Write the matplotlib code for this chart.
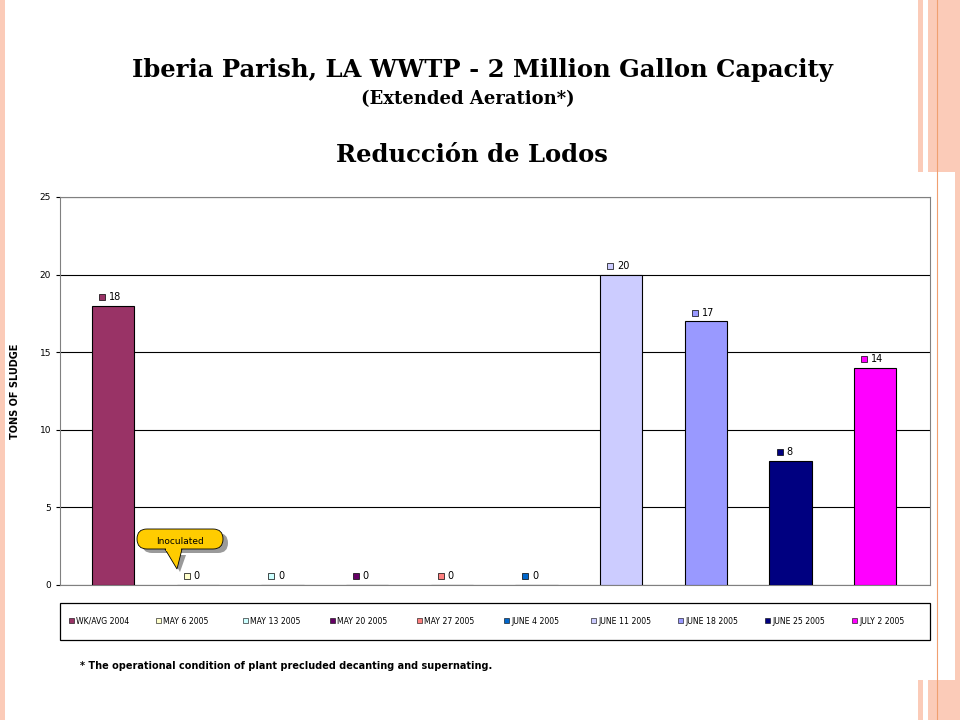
import matplotlib
matplotlib.use("Agg")
import matplotlib.pyplot as plt
from matplotlib.patches import Rectangle, FancyBboxPatch, Polygon

categories = ["WK/AVG 2004", "MAY 6 2005", "MAY 13 2005", "MAY 20 2005", "MAY 27 2005",
              "JUNE 4 2005", "JUNE 11 2005", "JUNE 18 2005", "JUNE 25 2005", "JULY 2 2005"]
values = [18, 0, 0, 0, 0, 0, 20, 17, 8, 14]
colors = ["#993366", "#FFFFCC", "#CCFFFF", "#660066", "#FF8080",
          "#0066CC", "#CCCCFF", "#9999FF", "#000080", "#FF00FF"]
yticks = [0, 5, 10, 15, 20, 25]

W, H = 960, 720
fig = plt.figure(figsize=(9.6, 7.2), dpi=100)
fig.patch.set_facecolor("white")

def px(x, y, w, h):
    return [x / W, 1 - (y + h) / H, w / W, h / H]

# decorative stripes
bg = fig.add_axes([0, 0, 1, 1], zorder=-5)
bg.set_xlim(0, W); bg.set_ylim(H, 0); bg.axis("off")
for x0, w in [(0, 5), (918, 5), (928, 32)]:
    bg.add_patch(Rectangle((x0, 0), w, H, color="#FBCBB8", lw=0))
bg.plot([937, 937], [0, H], color="#F0A070", lw=0.8)
bg.add_patch(Rectangle((5, 172), 950, 508, color="white", lw=0))

fig.text(482 / W, 1 - 70 / H, "Iberia Parish, LA WWTP - 2 Million Gallon Capacity",
         ha="center", va="center", fontsize=17.5, fontweight="bold", family="DejaVu Serif")
fig.text(468 / W, 1 - 99 / H, "(Extended Aeration*)", ha="center", va="center",
         fontsize=13, fontweight="bold", family="DejaVu Serif")
fig.text(472 / W, 1 - 155 / H, "Reducción de Lodos", ha="center", va="center",
         fontsize=17.5, fontweight="bold", family="DejaVu Serif")

ax = fig.add_axes(px(60, 197, 870, 388))
pos = list(range(len(categories)))
ax.bar(pos, values, width=0.5, color=colors, edgecolor="black", linewidth=0.8, zorder=3)
ax.set_xlim(-0.626, 9.646)
ax.set_ylim(0, 25)
ax.set_yticks(yticks)
ax.tick_params(axis="y", labelsize=6.5, length=3)
ax.set_xticks([])
ax.grid(axis="y", color="black", lw=0.8, zorder=0)
for s in ax.spines.values():
    s.set_color("#808080")
ax.set_ylabel("TONS OF SLUDGE", fontsize=7, fontweight="bold", labelpad=14)
for p, v, c in zip(pos, values, colors):
    yy = v + 0.55
    ax.plot(p - 0.13, yy, marker="s", ms=5, mfc=c, mec="black", mew=0.5, zorder=5)
    ax.text(p - 0.05, yy, str(v), fontsize=7, va="center", ha="left", zorder=5)

# overlay for callout, legend, note
ov = fig.add_axes([0, 0, 1, 1], zorder=10)
ov.set_xlim(0, W); ov.set_ylim(H, 0); ov.axis("off"); ov.patch.set_alpha(0)
ov.add_patch(Polygon([[170, 555], [186, 555], [180, 572]], closed=True, fc="#9a9a9a", ec="none"))
ov.add_patch(FancyBboxPatch((142, 533), 86, 20, boxstyle="round,pad=0,rounding_size=10",
                            fc="#9a9a9a", ec="none"))
ov.add_patch(Polygon([[165, 549], [182, 549], [177, 569]], closed=True, fc="#FFCC00", ec="black", lw=0.6))
ov.add_patch(FancyBboxPatch((137, 529), 86, 20, boxstyle="round,pad=0,rounding_size=10",
                            fc="#FFCC00", ec="black", lw=0.6))
ov.add_patch(Rectangle((166, 546), 15, 5, fc="#FFCC00", ec="none"))
ov.text(180, 541, "Inoculated", fontsize=6.5, ha="center", va="center")

ov.add_patch(Rectangle((60, 603), 870, 37, fc="white", ec="black", lw=0.9))
lx = [60 + 9 + i * 87 for i in range(10)]
for i, (c, name) in enumerate(zip(colors, categories)):
    x0 = lx[i]
    ov.add_patch(Rectangle((x0, 618), 5, 5, fc=c, ec="black", lw=0.4))
    ov.text(x0 + 7, 621, name, fontsize=5.6, va="center", ha="left")

ov.text(80, 666, "* The operational condition of plant precluded decanting and supernating.",
        fontsize=7, fontweight="bold", va="center")

fig.savefig("out.png", dpi=100)
